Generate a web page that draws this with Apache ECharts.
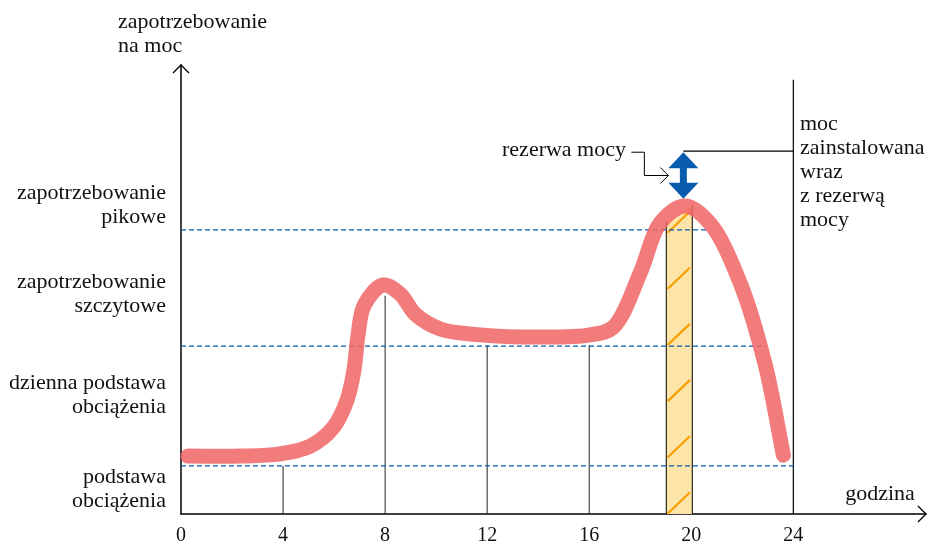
<!DOCTYPE html>
<html><head><meta charset="utf-8">
<script src="https://cdn.jsdelivr.net/npm/echarts@6/dist/echarts.min.js"></script>
<style>html,body{margin:0;background:#fff}#c{width:928px;height:546px}</style>
</head><body><div id="c"></div>
<script>
// ---- data (hours, relative power demand 0..100) ----
const hours  = [0.27, 2.31, 3.88, 5.06, 5.96, 6.51, 6.78, 6.94, 7.18, 7.92, 8.59, 9.18, 10.16, 11.73, 14.08, 16.04, 16.94, 18.0, 18.78, 19.76, 20.75, 21.92, 22.90, 23.61];
const demand = [12.9, 12.9, 13.4, 15.1, 19.2, 25.4, 32.1, 39.9, 46.5, 51.0, 49.0, 44.5, 41.2, 39.9, 39.4, 39.9, 41.6, 53.7, 64.8, 68.6, 64.6, 51.4, 33.2, 13.1];
const xTicks = [0, 4, 8, 12, 16, 20, 24];
const levelValues = [63.3, 37.4, 10.7];   // peak, daily base, base load
const levelEnds   = [20.6, 22.9, 24];
const dropHours = [4, 8, 12, 16];
const dropTops  = [10.7, 48.6, 37.6, 37.6];
const bandHours = [19.02, 20.04];
const bandTops  = [65.0, 68.8];
const reserveHour = 19.69;
const reserveRange = [70.2, 80.8];
const installedHour = 24;
const installedTop = 96.7;
const xMax = 29.2, yMax = 100;

const leftLabels = [
  ['zapotrzebowanie', 'pikowe'],
  ['zapotrzebowanie', 'szczytowe'],
  ['dzienna podstawa', 'obciążenia'],
  ['podstawa', 'obciążenia']
];
const rightLabel = ['moc', 'zainstalowana', 'wraz', 'z rezerwą', 'mocy'];
const yAxisTitle = ['zapotrzebowanie', 'na moc'];
const xAxisTitle = 'godzina';
const reserveLabel = 'rezerwa mocy';

// ---- styles ----
const FONT = '"Liberation Serif", "DejaVu Serif", serif';
const FS = 22;
const BLUE = '#0a5cae';

const chart = echarts.init(document.getElementById('c'), null, {renderer: 'canvas'});

const straight = (pts, style, z) => ({
  type: 'line', data: pts, symbol: 'none', silent: true, animation: false,
  lineStyle: style, z: z
});

const series = [];

// reserve band with hatching
series.push({
  type: 'custom', silent: true, animation: false, z: 1,
  data: [[bandHours[0], bandHours[1], bandTops[0], bandTops[1]]],
  renderItem: (params, api) => {
    const bl = api.coord([api.value(0), 0]);
    const br = api.coord([api.value(1), 0]);
    const tl = api.coord([api.value(0), api.value(2)]);
    const tr = api.coord([api.value(1), api.value(3)]);
    const children = [{
      type: 'polygon', shape: {points: [bl, br, tr, tl]},
      style: {fill: '#fde4a9'}
    }];
    const w = br[0] - bl[0];
    for (let k = 0; k < 6; k++) {
      const yb = bl[1] - 1 - k * 56.2;
      children.push({
        type: 'line',
        shape: {x1: bl[0] + 2, y1: yb, x2: bl[0] + w - 3, y2: yb - 20},
        style: {stroke: '#f5a000', lineWidth: 2.2, lineCap: 'round'}
      });
    }
    children.push({type: 'line', shape: {x1: bl[0], y1: bl[1], x2: tl[0], y2: tl[1]}, style: {stroke: '#000', lineWidth: 1}});
    children.push({type: 'line', shape: {x1: br[0], y1: br[1], x2: tr[0], y2: tr[1]}, style: {stroke: '#000', lineWidth: 1}});
    return {type: 'group', children};
  }
});

// dashed reference levels
levelValues.forEach((v, i) => {
  series.push(straight([[0, v], [levelEnds[i], v]], {color: BLUE, width: 1.3, type: [5, 3]}, 3));
});

// vertical drop lines
dropHours.forEach((h, i) => {
  series.push(straight([[h, 0], [h, dropTops[i]]], {color: '#222', width: 1}, 2));
});

// installed capacity lines
series.push(straight([[installedHour, 0], [installedHour, installedTop]], {color: '#000', width: 1.2}, 2));
series.push(straight([[reserveHour, reserveRange[1]], [installedHour, reserveRange[1]]], {color: '#000', width: 1.2}, 2));

// demand curve: centripetal Catmull-Rom path through the data points, mapped by the axes
series.push({
  type: 'custom', silent: true, animation: false, z: 5,
  data: hours.map((h, i) => [h, demand[i]]),
  renderItem: (params, api) => {
    if (params.dataIndex !== 0) return null;
    const P = hours.map((h, i) => api.coord([h, demand[i]]));
    const n = P.length;
    const dist = (a, b) => Math.pow(Math.hypot(b[0] - a[0], b[1] - a[1]), 0.5);
    let d = 'M' + P[0][0] + ' ' + P[0][1];
    for (let i = 0; i < n - 1; i++) {
      const p1 = P[i], p2 = P[i + 1];
      const p0 = i > 0 ? P[i - 1] : [2 * p1[0] - p2[0], 2 * p1[1] - p2[1]];
      const p3 = i + 2 < n ? P[i + 2] : [2 * p2[0] - p1[0], 2 * p2[1] - p1[1]];
      const d1 = dist(p0, p1), d2 = dist(p1, p2), d3 = dist(p2, p3);
      const b1 = [0, 1].map(k => (d1 * d1 * p2[k] - d2 * d2 * p0[k] + (2 * d1 * d1 + 3 * d1 * d2 + d2 * d2) * p1[k]) / (3 * d1 * (d1 + d2)));
      const b2 = [0, 1].map(k => (d3 * d3 * p1[k] - d2 * d2 * p3[k] + (2 * d3 * d3 + 3 * d3 * d2 + d2 * d2) * p2[k]) / (3 * d3 * (d3 + d2)));
      d += ' C' + b1[0] + ' ' + b1[1] + ' ' + b2[0] + ' ' + b2[1] + ' ' + p2[0] + ' ' + p2[1];
    }
    return {
      type: 'path', shape: {pathData: d},
      style: {fill: 'none', stroke: 'rgba(240,101,103,0.86)', lineWidth: 15, lineCap: 'round', lineJoin: 'round'}
    };
  }
});

// decorations: reserve double arrow, connector, axis arrowheads
series.push({
  type: 'custom', silent: true, animation: false, z: 6,
  data: [[reserveHour, reserveRange[0], reserveRange[1]]],
  renderItem: (params, api) => {
    const top = api.coord([api.value(0), api.value(2)]);
    const bot = api.coord([api.value(0), api.value(1)]);
    const cx = top[0];
    const t = top[1] + 1, b = bot[1];
    const hw = 15, sw = 3.5, hh = 16;
    const arrow = {
      type: 'polygon',
      shape: {points: [
        [cx, t], [cx + hw, t + hh], [cx + sw, t + hh], [cx + sw, b - hh], [cx + hw, b - hh],
        [cx, b], [cx - hw, b - hh], [cx - sw, b - hh], [cx - sw, t + hh], [cx - hw, t + hh]
      ]},
      style: {fill: BLUE}
    };
    const my = (t + b) / 2;
    const conn = {
      type: 'polyline',
      shape: {points: [[cx - 52, t], [cx - 39, t], [cx - 39, my], [cx - 15, my]]},
      style: {stroke: '#000', lineWidth: 1, fill: null}
    };
    const head = {
      type: 'polyline',
      shape: {points: [[cx - 23, my - 8], [cx - 15, my], [cx - 23, my + 8]]},
      style: {stroke: '#000', lineWidth: 1, fill: null}
    };
    const yTip = api.coord([0, yMax]);
    const xTip = api.coord([xMax, 0]);
    const yHead = {
      type: 'polyline',
      shape: {points: [[yTip[0] - 8, yTip[1] + 8], [yTip[0], yTip[1]], [yTip[0] + 8, yTip[1] + 8]]},
      style: {stroke: '#000', lineWidth: 1.3, fill: null}
    };
    const xHead = {
      type: 'polyline',
      shape: {points: [[xTip[0] - 8, xTip[1] - 8], [xTip[0], xTip[1]], [xTip[0] - 8, xTip[1] + 8]]},
      style: {stroke: '#000', lineWidth: 1.3, fill: null}
    };
    return {type: 'group', children: [arrow, conn, head, yHead, xHead]};
  }
});

// texts
const txt = (text, x, y, align) => ({
  type: 'text', silent: true,
  style: {text, x, y, textAlign: align, textVerticalAlign: 'middle', font: FS + 'px ' + FONT, fill: '#111'}
});
const graphics = [];
yAxisTitle.forEach((s, i) => graphics.push(txt(s, 118, 22 + i * 24, 'left')));
const leftY = [193, 282, 383, 477];
leftLabels.forEach((pair, k) => pair.forEach((s, i) => graphics.push(txt(s, 166, leftY[k] + i * 24, 'right'))));
rightLabel.forEach((s, i) => graphics.push(txt(s, 800, 124 + i * 24, 'left')));
graphics.push(txt(reserveLabel, 626, 150, 'right'));
graphics.push(txt(xAxisTitle, 880, 494, 'center'));

chart.setOption({
  backgroundColor: '#fff',
  animation: false,
  grid: {left: 181, right: 2, top: 65, bottom: 32, containLabel: false},
  xAxis: {
    type: 'value', min: 0, max: xMax, interval: 4,
    axisLine: {show: true, lineStyle: {color: '#000', width: 1.5}},
    axisTick: {show: false}, splitLine: {show: false},
    axisLabel: {
      color: '#111', fontSize: 20, fontFamily: FONT, margin: 12,
      showMaxLabel: false,
      formatter: v => (xTicks.indexOf(v) >= 0 ? String(v) : '')
    }
  },
  yAxis: {
    type: 'value', min: 0, max: yMax,
    axisLine: {show: true, lineStyle: {color: '#000', width: 1.5}},
    axisTick: {show: false}, splitLine: {show: false}, axisLabel: {show: false}
  },
  series,
  graphic: graphics
});
</script></body></html>
